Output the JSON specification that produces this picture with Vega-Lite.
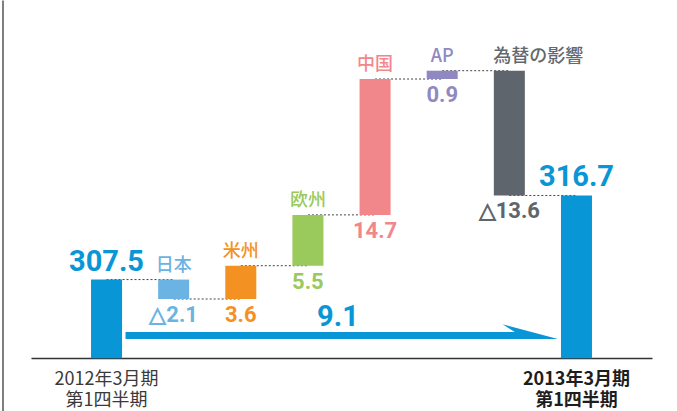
{
  "$schema": "https://vega.github.io/schema/vega-lite/v6.json",
  "width": 677,
  "height": 411,
  "autosize": {"type": "none"},
  "padding": 0,
  "background": "white",
  "config": {"view": {"stroke": null}},
  "datasets": {
    "bars": [
      {"cat": "2012", "lo": 299.0, "hi": 307.5, "label": "307.5"},
      {"cat": "日本", "lo": 305.4, "hi": 307.5, "label": "△2.1"},
      {"cat": "米州", "lo": 305.4, "hi": 309.0, "label": "3.6"},
      {"cat": "欧州", "lo": 309.0, "hi": 314.5, "label": "5.5"},
      {"cat": "中国", "lo": 314.5, "hi": 329.2, "label": "14.7"},
      {"cat": "AP", "lo": 329.2, "hi": 330.1, "label": "0.9"},
      {"cat": "為替の影響", "lo": 316.6, "hi": 330.1, "label": "△13.6"},
      {"cat": "2013", "lo": 299.0, "hi": 316.6, "label": "316.7"}
    ],
    "links": [
      {"cat": "2012", "cat2": "日本", "level": 307.5},
      {"cat": "日本", "cat2": "米州", "level": 305.4},
      {"cat": "米州", "cat2": "欧州", "level": 309.0},
      {"cat": "欧州", "cat2": "中国", "level": 314.5},
      {"cat": "中国", "cat2": "AP", "level": 329.2},
      {"cat": "AP", "cat2": "為替の影響", "level": 330.1},
      {"cat": "為替の影響", "cat2": "2013", "level": 316.6}
    ],
    "arrow": [
      {"cat": "2012", "cat2": "2013", "level": 301.45}
    ],
    "arrowhead": [
      {"cat": "2013", "level": 301.45}
    ],
    "total": [
      {"cat": "欧州", "level": 301.45, "label": "9.1"}
    ]
  },
  "encoding": {
    "x": {
      "field": "cat",
      "type": "nominal",
      "sort": null,
      "scale": {
        "domain": ["2012", "日本", "米州", "欧州", "中国", "AP", "為替の影響", "2013"],
        "range": [31, 652],
        "paddingInner": 0.538,
        "paddingOuter": 0.894
      },
      "axis": {
        "title": null,
        "domainColor": "#333333",
        "domainWidth": 1.3,
        "ticks": false,
        "tickSize": 0,
        "labelPadding": 12,
        "offset": -53,
        "labelAngle": 0,
        "labelOverlap": false,
        "labelFlush": false,
        "labelBaseline": "top",
        "labelFont": "Noto Sans CJK JP",
        "labelFontSize": 18,
        "labelLineHeight": 21,
        "labelColor": {"condition": {"test": "datum.value == '2013'", "value": "#1e1e1e"}, "value": "#3a3a3a"},
        "labelFontWeight": {"condition": {"test": "datum.value == '2013'", "value": "bold"}, "value": "normal"},
        "labelExpr": "datum.value == '2012' ? ['2012年3月期', '第1四半期'] : datum.value == '2013' ? ['2013年3月期', '第1四半期'] : ''"
      }
    }
  },
  "layer": [
    {
      "data": {"name": "links"},
      "mark": {"type": "rule", "color": "#444444", "strokeWidth": 1, "strokeDash": [2, 2]},
      "encoding": {
        "x2": {"field": "cat2"},
        "y": {"field": "level", "type": "quantitative", "scale": {"domain": [293.28, 337.75], "nice": false, "zero": false}, "axis": {"orient": "left", "title": null, "labels": false, "ticks": false, "grid": false, "domainColor": "#555555", "domainWidth": 1.5, "offset": -2.5}}
      }
    },
    {
      "data": {"name": "arrow"},
      "mark": {"type": "rule", "color": "#0996D7", "strokeWidth": 7, "strokeCap": "butt", "xOffset": 19, "x2Offset": -58},
      "encoding": {
        "x2": {"field": "cat2"},
        "y": {"field": "level", "type": "quantitative", "scale": {"domain": [293.28, 337.75], "nice": false, "zero": false}, "axis": {"orient": "left", "title": null, "labels": false, "ticks": false, "grid": false, "domainColor": "#555555", "domainWidth": 1.5, "offset": -2.5}}
      }
    },
    {
      "data": {"name": "bars"},
      "mark": {"type": "bar"},
      "encoding": {
        "y": {"field": "lo", "type": "quantitative", "scale": {"domain": [293.28, 337.75], "nice": false, "zero": false}, "axis": {"orient": "left", "title": null, "labels": false, "ticks": false, "grid": false, "domainColor": "#555555", "domainWidth": 1.5, "offset": -2.5}},
        "y2": {"field": "hi"},
        "color": {
          "field": "cat",
          "type": "nominal",
          "scale": {
            "domain": ["2012", "日本", "米州", "欧州", "中国", "AP", "為替の影響", "2013"],
            "range": ["#0996D7", "#6BB3E3", "#F39222", "#99CA5B", "#F1868B", "#9089C1", "#5E656C", "#0996D7"]
          },
          "legend": null
        }
      }
    },
    {
      "data": {"name": "arrowhead"},
      "mark": {"type": "point", "shape": "M-18.6,3.5 L-73.9,-11.2 L-61.6,-3.5 L-61.6,3.5 Z", "size": 4, "filled": true, "opacity": 1, "strokeWidth": 0, "color": "#0996D7"},
      "encoding": {
        "y": {"field": "level", "type": "quantitative", "scale": {"domain": [293.28, 337.75], "nice": false, "zero": false}, "axis": {"orient": "left", "title": null, "labels": false, "ticks": false, "grid": false, "domainColor": "#555555", "domainWidth": 1.5, "offset": -2.5}}
      }
    },
    {
      "data": {"name": "bars"},
      "transform": [{"filter": "datum.cat != '2012' && datum.cat != '2013' && datum.cat != '為替の影響'"}],
      "mark": {"type": "text", "font": "Noto Sans CJK JP", "fontWeight": 500, "fontSize": 18, "align": "center", "baseline": "alphabetic", "dy": -9},
      "encoding": {
        "y": {"field": "hi", "type": "quantitative", "scale": {"domain": [293.28, 337.75], "nice": false, "zero": false}, "axis": {"orient": "left", "title": null, "labels": false, "ticks": false, "grid": false, "domainColor": "#555555", "domainWidth": 1.5, "offset": -2.5}},
        "text": {"field": "cat"},
        "color": {"field": "cat", "type": "nominal", "legend": null}
      }
    },
    {
      "data": {"name": "bars"},
      "transform": [{"filter": "datum.cat == '為替の影響'"}],
      "mark": {"type": "text", "font": "Noto Sans CJK JP", "fontWeight": 500, "fontSize": 18, "align": "left", "baseline": "alphabetic", "dy": -9, "dx": -16, "color": "#62686F"},
      "encoding": {
        "y": {"field": "hi", "type": "quantitative", "scale": {"domain": [293.28, 337.75], "nice": false, "zero": false}, "axis": {"orient": "left", "title": null, "labels": false, "ticks": false, "grid": false, "domainColor": "#555555", "domainWidth": 1.5, "offset": -2.5}},
        "text": {"field": "cat"}
      }
    },
    {
      "data": {"name": "bars"},
      "transform": [{"filter": "datum.cat != '2012' && datum.cat != '2013'"}],
      "mark": {"type": "text", "font": "Roboto, Liberation Sans, sans-serif", "fontWeight": "bold", "fontSize": 22, "align": "center", "baseline": "top", "dy": 6},
      "encoding": {
        "y": {"field": "lo", "type": "quantitative", "scale": {"domain": [293.28, 337.75], "nice": false, "zero": false}, "axis": {"orient": "left", "title": null, "labels": false, "ticks": false, "grid": false, "domainColor": "#555555", "domainWidth": 1.5, "offset": -2.5}},
        "text": {"field": "label"},
        "color": {"field": "cat", "type": "nominal", "legend": null}
      }
    },
    {
      "data": {"name": "bars"},
      "transform": [{"filter": "datum.cat == '2012' || datum.cat == '2013'"}],
      "mark": {"type": "text", "font": "Roboto, Liberation Sans, sans-serif", "fontWeight": "bold", "fontSize": 29, "align": "center", "baseline": "alphabetic", "dy": -9, "color": "#0996D7"},
      "encoding": {
        "y": {"field": "hi", "type": "quantitative", "scale": {"domain": [293.28, 337.75], "nice": false, "zero": false}, "axis": {"orient": "left", "title": null, "labels": false, "ticks": false, "grid": false, "domainColor": "#555555", "domainWidth": 1.5, "offset": -2.5}},
        "text": {"field": "label"}
      }
    },
    {
      "data": {"name": "total"},
      "mark": {"type": "text", "font": "Roboto, Liberation Sans, sans-serif", "fontWeight": "bold", "fontSize": 29, "align": "center", "baseline": "alphabetic", "dy": -9, "dx": 30, "color": "#0996D7"},
      "encoding": {
        "y": {"field": "level", "type": "quantitative", "scale": {"domain": [293.28, 337.75], "nice": false, "zero": false}, "axis": {"orient": "left", "title": null, "labels": false, "ticks": false, "grid": false, "domainColor": "#555555", "domainWidth": 1.5, "offset": -2.5}},
        "text": {"field": "label"}
      }
    }
  ]
}
